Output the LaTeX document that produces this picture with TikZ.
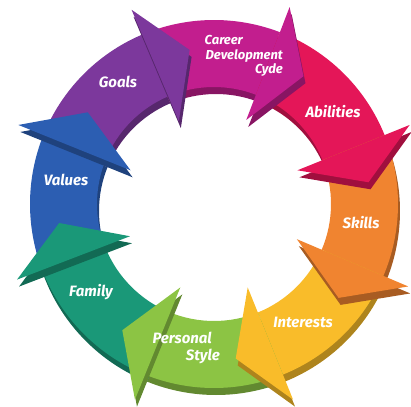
\documentclass[tikz,border=0pt]{standalone}
\usepackage{fontspec}
\setmainfont{Fira Sans}
\usepackage{tikz}
\usetikzlibrary{backgrounds}
\definecolor{goalscolor}{RGB}{124,56,156}
\definecolor{careercolor}{RGB}{194,30,142}
\definecolor{abilitiescolor}{RGB}{228,22,88}
\definecolor{skillscolor}{RGB}{240,132,48}
\definecolor{interestscolor}{RGB}{249,188,42}
\definecolor{stylecolor}{RGB}{140,196,68}
\definecolor{familycolor}{RGB}{26,152,120}
\definecolor{valuescolor}{RGB}{44,94,178}
\newcommand{\ringin}{117pt}
\newcommand{\ringout}{184pt}
\newcommand{\barbin}{90pt}
\newcommand{\barbout}{211pt}
\newcommand{\tipr}{156pt}
\newcommand{\sidemix}{70}

\begin{document}
\begin{tikzpicture}[
  sideface/.style={xshift=2pt, yshift=-7pt},
  cyclabel/.style={text=white, font=\fontsize{15}{17}\selectfont\bfseries\itshape, inner sep=0pt}
]
\useasboundingbox (-214pt,-202pt) rectangle (197pt,204pt);
%bodies
\begin{scope}[on background layer]
\fill[goalscolor!\sidemix!black, sideface] (158:\ringout) arc[start angle=158, end angle=113, radius=\ringout] -- (113:\ringin) arc[start angle=113, end angle=158, radius=\ringin] -- cycle;
\fill[careercolor!\sidemix!black, sideface] (113:\ringout) arc[start angle=113, end angle=69, radius=\ringout] -- (69:\ringin) arc[start angle=69, end angle=113, radius=\ringin] -- cycle;
\fill[abilitiescolor!\sidemix!black, sideface] (69:\ringout) arc[start angle=69, end angle=22, radius=\ringout] -- (22:\ringin) arc[start angle=22, end angle=69, radius=\ringin] -- cycle;
\fill[skillscolor!\sidemix!black, sideface] (22:\ringout) arc[start angle=22, end angle=-23, radius=\ringout] -- (-23:\ringin) arc[start angle=-23, end angle=22, radius=\ringin] -- cycle;
\fill[interestscolor!\sidemix!black, sideface] (-23:\ringout) arc[start angle=-23, end angle=-68, radius=\ringout] -- (-68:\ringin) arc[start angle=-68, end angle=-23, radius=\ringin] -- cycle;
\fill[stylecolor!\sidemix!black, sideface] (-68:\ringout) arc[start angle=-68, end angle=-112, radius=\ringout] -- (-112:\ringin) arc[start angle=-112, end angle=-68, radius=\ringin] -- cycle;
\fill[familycolor!\sidemix!black, sideface] (-112:\ringout) arc[start angle=-112, end angle=-159, radius=\ringout] -- (-159:\ringin) arc[start angle=-159, end angle=-112, radius=\ringin] -- cycle;
\fill[valuescolor!\sidemix!black, sideface] (-159:\ringout) arc[start angle=-159, end angle=-202, radius=\ringout] -- (-202:\ringin) arc[start angle=-202, end angle=-159, radius=\ringin] -- cycle;
\fill[goalscolor] (158:\ringout) arc[start angle=158, end angle=113, radius=\ringout] -- (113:\ringin) arc[start angle=113, end angle=158, radius=\ringin] -- cycle;
\fill[careercolor] (113:\ringout) arc[start angle=113, end angle=69, radius=\ringout] -- (69:\ringin) arc[start angle=69, end angle=113, radius=\ringin] -- cycle;
\fill[abilitiescolor] (69:\ringout) arc[start angle=69, end angle=22, radius=\ringout] -- (22:\ringin) arc[start angle=22, end angle=69, radius=\ringin] -- cycle;
\fill[skillscolor] (22:\ringout) arc[start angle=22, end angle=-23, radius=\ringout] -- (-23:\ringin) arc[start angle=-23, end angle=22, radius=\ringin] -- cycle;
\fill[interestscolor] (-23:\ringout) arc[start angle=-23, end angle=-68, radius=\ringout] -- (-68:\ringin) arc[start angle=-68, end angle=-23, radius=\ringin] -- cycle;
\fill[stylecolor] (-68:\ringout) arc[start angle=-68, end angle=-112, radius=\ringout] -- (-112:\ringin) arc[start angle=-112, end angle=-68, radius=\ringin] -- cycle;
\fill[familycolor] (-112:\ringout) arc[start angle=-112, end angle=-159, radius=\ringout] -- (-159:\ringin) arc[start angle=-159, end angle=-112, radius=\ringin] -- cycle;
\fill[valuescolor] (-159:\ringout) arc[start angle=-159, end angle=-202, radius=\ringout] -- (-202:\ringin) arc[start angle=-202, end angle=-159, radius=\ringin] -- cycle;
\end{scope}
%heads
\fill[goalscolor!\sidemix!black, sideface] (113:\barbin) -- (113:\barbout) -- (99:\tipr) -- cycle;
\fill[goalscolor] (113:\barbin) -- (113:\barbout) -- (99:\tipr) -- cycle;
\fill[careercolor!\sidemix!black, sideface] (69:\barbin) -- (69:\barbout) -- (55:\tipr) -- cycle;
\fill[careercolor] (69:\barbin) -- (69:\barbout) -- (55:\tipr) -- cycle;
\fill[abilitiescolor!\sidemix!black, sideface] (22:\barbin) -- (22:\barbout) -- (8:\tipr) -- cycle;
\fill[abilitiescolor] (22:\barbin) -- (22:\barbout) -- (8:\tipr) -- cycle;
\fill[skillscolor!\sidemix!black, sideface] (-23:\barbin) -- (-23:\barbout) -- (-37:\tipr) -- cycle;
\fill[skillscolor] (-23:\barbin) -- (-23:\barbout) -- (-37:\tipr) -- cycle;
\fill[interestscolor!\sidemix!black, sideface] (-68:\barbin) -- (-68:\barbout) -- (-82:\tipr) -- cycle;
\fill[interestscolor] (-68:\barbin) -- (-68:\barbout) -- (-82:\tipr) -- cycle;
\fill[stylecolor!\sidemix!black, sideface] (-112:\barbin) -- (-112:\barbout) -- (-126:\tipr) -- cycle;
\fill[stylecolor] (-112:\barbin) -- (-112:\barbout) -- (-126:\tipr) -- cycle;
\fill[familycolor!\sidemix!black, sideface] (-159:\barbin) -- (-159:\barbout) -- (-173:\tipr) -- cycle;
\fill[familycolor] (-159:\barbin) -- (-159:\barbout) -- (-173:\tipr) -- cycle;
\fill[valuescolor!\sidemix!black, sideface] (-202:\barbin) -- (-202:\barbout) -- (-216:\tipr) -- cycle;
\fill[valuescolor] (-202:\barbin) -- (-202:\barbout) -- (-216:\tipr) -- cycle;
%labels
\node[cyclabel] (goals) at (-96pt,122pt) {Goals};
\node[cyclabel, font=\fontsize{13}{14.5}\selectfont\bfseries\itshape, align=right, anchor=east] (career) at (69pt,148pt) {Career\hspace*{40pt}\\Development\\Cyde};
\node[cyclabel] (abilities) at (119pt,92pt) {Abilities};
\node[cyclabel] (skills) at (147pt,-19pt) {Skills};
\node[cyclabel] (interests) at (89pt,-118pt) {Interests};
\node[cyclabel, align=right, anchor=east] (style) at (6pt,-144pt) {Personal\hspace*{8pt}\\Style};
\node[cyclabel] (family) at (-123pt,-88pt) {Family};
\node[cyclabel] (values) at (-148pt,24pt) {Values};
\end{tikzpicture}
\end{document}
